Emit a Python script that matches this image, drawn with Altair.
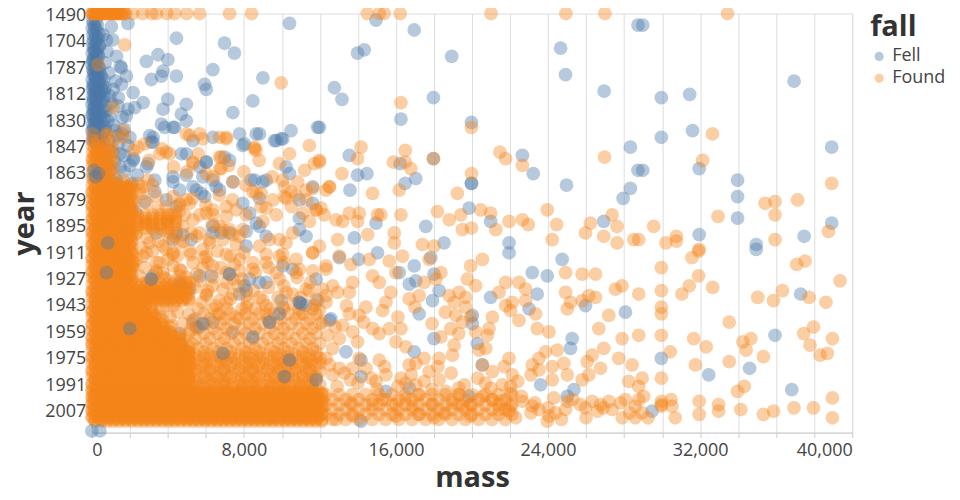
import altair as alt
import pandas as pd

# ---------------- y categories (distinct years, ordinal) ----------------
early_years = [1490, 1491, 1492, 1540, 1575, 1583, 1600, 1621, 1623, 1631, 1635, 1636, 1647, 1654,
               1668, 1671, 1704, 1715, 1723, 1740, 1741, 1750, 1751, 1753, 1766, 1768, 1769, 1773,
               1775, 1776, 1779, 1785, 1787, 1790, 1791, 1792, 1794, 1795, 1796, 1798, 1799, 1801,
               1802, 1803, 1804, 1806, 1807, 1810, 1812, 1813, 1814, 1815, 1816, 1818, 1819, 1820,
               1821, 1822, 1824, 1825, 1826, 1827, 1828, 1829, 1830, 1831, 1833, 1834, 1835, 1836,
               1837, 1838, 1839, 1840, 1841, 1842, 1843, 1844, 1845, 1846]
modern_years = list(range(1847, 2022))
year_domain = early_years + modern_years
year_labels = [1490, 1704, 1787, 1812, 1830, 1847, 1863, 1879, 1895, 1911, 1927, 1943, 1959,
               1975, 1991, 2007]

# ---------------- Fell (blue) ----------------
fell_column = [(40,1575),(210,1583),(90,1600),(300,1621),(150,1623),(20,1631),(260,1635),(120,1636),
    (380,1647),(60,1654),(200,1668),(330,1671),(100,1704),(250,1715),(30,1723),(180,1740),(400,1741),
    (80,1750),(290,1751),(140,1753),(20,1766),(230,1768),(350,1769),(110,1773),(60,1775),(270,1776),
    (190,1779),(10,1785),(320,1787),(130,1790),(40,1791),(240,1792),(420,1794),(90,1795),(160,1796),
    (300,1798),(20,1799),(210,1801),(380,1802),(70,1803),(150,1804),(280,1806),(30,1807),(230,1810),
    (120,1812),(340,1813),(50,1814),(190,1815),(260,1816),(90,1818),(410,1819),(10,1820),(170,1821),
    (310,1822),(60,1824),(240,1825),(130,1826),(360,1827),(20,1828),(200,1829),(90,1830),(290,1831),
    (150,1833),(40,1834),(390,1835),(110,1836),(230,1837),(10,1838),(330,1839),(180,1840),(70,1841),
    (270,1842),(130,1843),(30,1844),(350,1845),(200,1846),
    (420,1740),(140,1751),(330,1768),(60,1776),(250,1787),(400,1790),(110,1792),(300,1795),(200,1798),
    (380,1801),(70,1804),(330,1807),(180,1812),(420,1814),(90,1816),(260,1819),(150,1822),(400,1825),
    (30,1827),(300,1829),(220,1831),(380,1834),(90,1837),(280,1840),(190,1843),(420,1846),
    (500,1796),(620,1799),(550,1803),(700,1806),(480,1812),(650,1815),(560,1818),(720,1821),
    (600,1825),(480,1828),(650,1830),(550,1834),(700,1838),(480,1842),(620,1845),(500,1807),
    (600,1654),(1100,1704),(800,1753),(1300,1769),(700,1779),(1500,1787),(900,1794),(1250,1801),
    (650,1810),(1400,1815),(1050,1819),(750,1825),(1600,1829),(850,1831),(1150,1835),(1700,1837),
    (600,1839),(1350,1841),(700,1836),(1200,1838),(1600,1840),(2000,1842),(900,1844),(1400,1846)]

fell_mid = [(1900,1847),(500,1849),(1100,1851),(1700,1853),(2200,1855),(800,1858),(1500,1860),
    (1000,1862),(2400,1865),(600,1867),(1300,1870),(1900,1873),(900,1876),(1600,1879),(1200,1884),
    (300,1848),(900,1850),(1500,1852),(600,1855),(1200,1857),(2000,1859),(400,1861),(1700,1863),
    (800,1864),(100,1866),(1300,1868),(2100,1870),(600,1872),(1000,1875),(1800,1877),(300,1879),
    (1400,1882),(700,1885),(2300,1887),(900,1890),(500,1894),(1600,1897),(1100,1912)]

fell_scatter = [(1030,1623),(1900,1600),(770,1704),(4450,1671),(6980,1723),(7500,1766),(10400,1600),
    (2870,1776),(3480,1768),(4000,1775),(6370,1791),(9000,1798),(1560,1790),(1820,1796),(3130,1799),
    (3660,1796),(4450,1796),(3745,1792),(1120,1807),(2170,1812),(945,1814),(1560,1803),(4000,1816),
    (2700,1819),(3745,1824),(4970,1820),(5930,1803),(6020,1807),(8470,1818),(7420,1826),(4710,1827),
    (1900,1824),(2260,1822),(1380,1821),(945,1828),(1820,1828),(3660,1834),(4270,1836),(6370,1842),
    (5320,1844),(8650,1840),(10480,1838),(9700,1844),(10040,1843),(11880,1836),(11970,1836),
    (3220,1842),(3130,1845),(8030,1846),
    (6020,1857),(6980,1854),(4710,1852),(5670,1860),(5840,1866),(7420,1869),(8560,1868),(9170,1868),
    (10220,1860),(10400,1864),(11620,1872),(2170,1856),(2870,1860),(3310,1868),(4270,1869),
    (5500,1874),(5760,1876),(6720,1874),(7940,1882),(8300,1888),(10920,1880),(11620,1882),
    (3920,1880),(4450,1884),(3400,1900),(4270,1904),(6370,1900),(7245,1900),(8820,1896),(10920,1898),
    (14950,1575),(16960,1635),(13980,1766),(14330,1751),(18930,1769),(24660,1750),(24920,1795),
    (12760,1806),(13160,1816),(17970,1815),(26950,1810),(16260,1830),(19970,1833),(28330,1848),
    (28730,1621),(13545,1853),(13980,1865),(14470,1864),(13580,1874),(16220,1858),(16480,1870),
    (17040,1867),(17970,1855),(19970,1870),(19970,1870),(22650,1853),(23220,1864),(24970,1871),
    (28330,1873),(27950,1879),(28730,1862),(17570,1896),(18530,1906),(19845,1885),(20980,1893),
    (21950,1906),(14950,1894),(13810,1903),(26930,1893),
    (28980,1621),(29960,1815),(31450,1813),(36940,1801),(29960,1842),(31600,1838),(28980,1862),
    (31950,1861),(33970,1868),(33970,1878),(33970,1891),(38920,1848),(38920,1894),(31950,1901),
    (34950,1907),(37470,1902),
    (37290,1937),(35940,1962),(29960,1976),(32450,1986),(34600,1982),(36820,1995),(29470,2008),
    (34950,1910),
    (13020,1915),(14030,1916),(15030,1912),(16960,1920),(16170,1924),(17830,1915),(16700,1931),
    (17040,1929),(18000,1925),(18270,1935),(17920,1941),(17220,1949),(20020,1950),(20020,1955),
    (20280,1967),(18000,1964),(16960,1972),(20540,1980),(13370,1972),(14160,1977),(14160,1987),
    (15470,1996),(16700,1994),(12580,1952),(14160,2014),(20980,1939),(21950,1912),(23170,1924),
    (23960,1926),(23430,1937),(24740,1916),(23000,1946),(25970,1944),(25270,1964),(25180,1970),
    (23610,1992),(25360,1995),(28070,1948),(19850,1999),(25010,1999),
    (3830,1836),(4360,1836),(4970,1831),(3045,1841),(3220,1845),(7770,1840),(8820,1840),(9610,1844),
    (9960,1843),(7940,1847),(4970,1852),(6020,1857),(7245,1856),(2960,1858),(4270,1866),(4970,1865),
    (6370,1868),(6540,1872),(8380,1868),(9000,1869),(5320,1872),(5930,1878),(8820,1879),(2780,1881),
    (3310,1875),(4620,1874),(10920,1891),(11270,1902),(10040,1920),(8650,1894),(9170,1902),
    (8120,1908),(8120,1899),(6370,1896),(6810,1900),(4450,1900),(4790,1901),(5230,1904),(6280,1926),
    (7245,1925),(3220,1926),(4620,1930),(5150,1934),(8300,1928),(8120,1935),(9170,1930),(11800,1928),
    (10920,1942),(11880,1941),
    (3130,1928),(4710,1932),(5670,1926),(8030,1932),(8820,1930),(9345,1954),(9960,1941),(10570,1922),
    (5320,1953),(5670,1957),(6370,1954),(7420,1960),(10130,1987),(10400,1977),(11270,1944),(9430,2012),
    (5495,1957),(4620,1961),(4710,1967),(7770,1937),(12495,1953)]

# Fell points that sit on top of the orange cloud
fell_over = [(770,1924),(840,1906),(1995,1958),(100,1862),(350,1864),(200,1866),(0,2020),(420,2020),
             (9345,1954),(10920,1942),(10130,1987),(10400,1977),(7245,1925),(3130,1928),
             (11010,1943),(9870,1949),(5845,1955),(8470,1963),(11800,1989),(6895,1973)]

# ---------------- Found (orange) ----------------
found_1490 = [0, 30, 60, 110, 150, 200, 240, 290, 330, 380, 420, 470, 520, 570, 620, 670, 720, 780,
              830, 880, 940, 990, 1050, 1100, 1160, 1220, 1280, 1340, 1400, 1460, 1520, 1590, 1650,
              1720, 1780, 2150, 2680, 3150, 3400, 3940, 4360, 4990, 5670, 7245, 8400, 14490, 15120,
              15380, 16220, 21000, 24940, 26990, 33440]

found_scatter = [(1730,1740),(330,1785),(9960,1802),(1120,1822),(16260,1819),(19970,1836),(32650,1840),
    (50,1840),(800,1841),(1200,1843),(1700,1842),(300,1845),(2780,1846),(4970,1840),(5830,1843),
    (6720,1842),(7070,1843),(770,1840),(1645,1838),(70,1844),(5145,1841),(5670,1840),(7070,1842),
    (11445,1847),(8560,1848),(3920,1851),(2430,1848),(5320,1858),(6720,1854),(6810,1861),(9870,1858),
    (10040,1868),(11700,1858),(8650,1876),(10130,1878),(10480,1875),(11270,1874),(2960,1868),
    (2700,1872),(3400,1878),(2260,1881),(4270,1878),(4620,1882),(4970,1880),(5670,1889),(6370,1889),
    (7070,1890),(6720,1896),(7245,1898),(7770,1902),(8120,1889),(9000,1893),(9345,1904),(9870,1904),
    (10570,1900),(11100,1888),(11800,1886),(11445,1893),(2350,1900),(2780,1894),(3220,1898),
    (3920,1893),(4100,1900),(4790,1896),(5230,1900),
    (245,1852),(50,1856),(4095,1852),(3570,1852),(5320,1857),(6020,1864),(6720,1861),(6810,1854),
    (8560,1849),(7420,1869),(8645,1850),(11970,1856),(11620,1873),(12320,1874),(10130,1872),
    (10830,1869),(10745,1877),(11795,1886),(9520,1880),(10220,1879),(9170,1885),(8470,1875),
    (8910,1876),(7070,1884),(7595,1886),(6370,1886),(6020,1888),(4620,1883),(5145,1882),(4190,1889),
    (4880,1889),(5320,1892),(3045,1895),(3745,1898),(4360,1902),(1645,1868),(1295,1874),(1645,1880),
    (1995,1884),(2430,1870),(2695,1876),(6370,1895),(6895,1898),(7420,1901),(7945,1898),(5670,1900),
    (6195,1904),(5845,1910),(4620,1906),(5145,1911),(4270,1913),(3745,1908),(3045,1906),(2870,1912),
    (2345,1916),(3395,1918),(4270,1920),(3745,1924),(5320,1918),(5845,1921),(4620,1926),(5145,1930),
    (6370,1920),(7070,1924),(7770,1923),(8470,1918),(9170,1913),(8820,1908),(9870,1914),(10220,1906),
    (10745,1916),(11620,1912),(11970,1908),(12320,1920),(11620,1923),(10745,1924),(9870,1928),
    (10570,1937),(11445,1935),(12145,1934),(10045,1945),(10920,1949),(11970,1947),(12320,1942),
    (6020,1937),(6720,1941),(7420,1937),(8120,1945),(8820,1939),(9170,1949),(7595,1951),(6720,1949),
    (6020,1914),(7070,1913),(7770,1916),(9170,1918),(10045,1913),(11620,1912),(10920,1922),(9695,1924),
    (8470,1922),(7420,1928),(6370,1932),(6020,1938),(7070,1942),(8120,1938),(9170,1944),(10220,1936),
    (11270,1934),(11795,1940),(1295,1916),(2170,1920),(2695,1914),(3570,1918),(4270,1912),(4620,1922),
    (1820,1928),(2870,1930),(3920,1928),(4970,1930),(1470,1922),(3395,1924),
    (3200,1948),(4100,1951),(4800,1955),(3900,1944),(5200,1959),(4600,1962),(3400,1950),(3700,1953),
    (4200,1956),(4500,1948),(4000,1960),(4800,1965),(3600,1946),(4300,1944),
    (2300,1901),(2900,1903),(3500,1905),(4100,1903),(4800,1905),(5500,1902),(6200,1906),(6900,1904),
    (7600,1907),(2600,1909),(3200,1911),(3900,1910),(4500,1914),(5200,1913),(5900,1915),(6600,1911),
    (7300,1914),(8000,1912),(2200,1918),(2800,1921),(3400,1923),(4000,1916),(4700,1923),(5500,1925),
    (6100,1918),(6800,1921),(7500,1919),(2500,1926),(3100,1929),(3800,1927),(4400,1929),(5000,1927),
    (5700,1929),(6400,1927),(7100,1930),(7900,1928),(8600,1924),(9300,1921),(10100,1918),(10800,1927),
    (11500,1930),
    (2200,1850),(3000,1856),(3700,1849),(4300,1860),(5000,1863),(5600,1852),(6400,1866),(7200,1859),
    (8000,1863),(8800,1856),(9500,1866),(10400,1852),(11200,1862),(2500,1874),(3200,1871),(3900,1884),
    (4600,1887),(5300,1879),(6000,1883),(6700,1877),(7400,1880),(8100,1871),(8900,1884),(9700,1889),
    (10500,1884),(11300,1880),(2100,1887),(3500,1886),(2900,1882),
    (5400,1933),(6100,1935),(6900,1934),(7700,1932),(8500,1935),(9300,1933),(10100,1932),(11000,1939),
    (11700,1944),(5800,1942),(6500,1944),(7300,1940),(8200,1942),(9000,1941),(9800,1939),(10600,1943),
    (11970,1857),(14160,1848),(13980,1855),(13160,1864),(12500,1872),(12500,1872),(14770,1876),
    (16490,1850),(15860,1857),(16490,1857),(16780,1861),(16170,1874),(17970,1855),(19230,1876),
    (19970,1864),(21470,1851),(21770,1855),(22650,1859),(26970,1854),(23960,1886),(24450,1895),
    (24220,1904),(26230,1894),(25970,1900),(27370,1889),(27630,1896),(26930,1902),(27630,1906),
    (28510,1904),(12060,1885),(12230,1889),(12850,1892),(13200,1893),(13545,1888),(14070,1888),
    (13980,1893),(15030,1889),(15210,1889),(14510,1901),(15910,1900),(16260,1889),(12930,1904),
    (18180,1887),(18800,1892),(19410,1889),(19490,1898),(19970,1897),(20460,1886),(20980,1888),
    (21250,1898),(21950,1893),(22650,1892),(22960,1895),(15910,1906),(17390,1907),(18000,1908),
    (32130,1856),(38920,1870),(35420,1882),(35940,1881),(35940,1889),(37130,1880),(32940,1890),
    (29560,1896),(30200,1906),(30750,1902),(30750,1905),(35940,1904),(38750,1899),(31950,1910),
    (28770,1904),
    (29960,1921),(29960,1935),(29960,1945),(29960,1949),(29960,1962),(29960,1988),(31570,1915),
    (31920,1911),(31920,1926),(31430,1932),(31040,1937),(32660,1933),(31660,1964),(32320,1969),
    (31750,1980),(30430,1972),(33530,1954),(33530,1978),(34250,1966),(34670,1964),(34420,1971),
    (35330,1975),(35030,1939),(35860,1941),(36330,1935),(37080,1919),(37520,1917),(37730,1939),
    (38620,1942),(39360,1929),(37450,1961),(37960,1957),(37780,1968),(38310,1974),(38690,1973),
    (38960,1964),(33970,1996),(34320,1993),(34140,2007),(35330,2010),(35860,2008),(36940,2006),
    (37960,2006),(38960,2000),(38960,2012),(31950,2002),(31950,2010),(32970,2004),(32970,2008),
    (30690,2012),(30520,2005),(29960,2002),(29960,2005),(29960,2004),(29260,2012),(28950,2009),
    (28770,2001),(28950,1988),(28770,1993),(28770,1962),(28770,1937),(29030,1999),(30470,2001),
    (12850,2013),(13630,2003),(13720,2011),(14770,2004),(15290,2001),(16000,2004),(16000,2011),
    (16520,2000),(16870,2005),(17220,2010),(17920,2004),(18000,2012),(18530,2009),(18970,2003),
    (19490,2005),(19930,2004),(19930,2011),(20540,1999),(21070,2001),(21510,2002),(21420,2007),
    (22030,1997),(22030,2005),(21950,2008),(22650,2002),(23170,2005),(23520,2007),(24050,2011),
    (23960,2014),(24390,2009),(25010,2002),(24920,2007),(25970,2006),(26320,2002),(26760,2004),
    (27370,2007),(27810,2003),(28590,2012),(28590,2005),(28070,2001),
    (22600,1999),(23300,2003),(24000,2006),(24700,2013),(25300,2001),(26000,2012),(26600,2008),
    (27200,2002),(27900,2012),(23100,2009),(24300,2000),(25700,2004),(26900,2006),(28300,2009),
    (22300,2012),
    (12320,1922),(12670,1932),(12930,1936),(13545,1936),(13720,1930),(12320,1938),(13020,1914),
    (13630,1919),(14600,1916),(14770,1926),(15120,1930),(15645,1917),(15995,1924),(16345,1914),
    (15730,1936),(15470,1942),(16695,1940),(17220,1938),(17480,1930),(18095,1928),(18360,1924),
    (17745,1916),(18795,1938),(19060,1942),(19320,1936),(19670,1939),(19760,1928),(19930,1920),
    (20545,1916),(20195,1932),(21070,1951),(21420,1936),(21770,1930),(22470,1930),(21770,1944),
    (22030,1947),(22470,1953),(22820,1934),(22120,1942),(22820,1941),(23345,1949),(23430,1958),
    (24045,1960),(23520,1976),(23870,1972),(24480,1971),(24220,1981),(24920,1936),(25180,1942),
    (25010,1946),(25795,1941),(26145,1938),(26495,1939),(26670,1958),(26495,1925),(25795,1925),
    (24920,1924),(26930,1970),(27195,1950),(27545,1934),(27895,1932),(27895,1964),(27720,1976),
    (28420,1980),(28245,1990),(26320,1974),(26060,1978),(26760,1982),(26145,1986),(25795,1989),
    (25010,1986),(24830,1979),(24220,1989),(23520,1983),(23170,1980),(21945,1976),(22120,1986),
    (22030,1993),(21595,1992),(21070,1984),(20545,1980),(20370,1971),(20720,1970),(20810,1962),
    (20895,1958),(20195,1960),(19495,1954),(19670,1945),(19930,1951),(19145,1950),(18880,1958),
    (18360,1963),(19060,1968),(18970,1974),(18270,1976),(17745,1984),(17480,1976),(17045,1979),
    (16695,1980),(16520,1969),(15995,1966),(16260,1958),(15645,1958),(15120,1961),(14770,1958),
    (13980,1966),(13720,1960),(13020,1964),(12670,1970),(12320,1976),(12410,1962),(13545,1949),
    (14070,1950),(14420,1945),(13195,1956),(12145,1954),(14070,1976),(14420,1982),(13720,1982),
    (13020,1982),(12670,1986),(15120,1977),(15470,1986),(14945,1990),(16260,1988),(17045,1992),
    (18270,1989),(18620,1996),(17220,1998),(19320,1998),
    (12500,1980),(13300,1985),(14000,1991),(14700,1988),(15400,1981),(16100,1993),(16800,1986),
    (17500,1990),(18200,1981),(18900,1985),(19600,1992),(20300,1988),(21000,1994),(21700,1981),
    (22400,1990),(23100,1986),(12900,1993),(13600,1989),(15000,1995),(16500,1991),(17900,1995),
    (19300,1994),(20700,1991),(12800,1957),(13400,1944),(14300,1954),(15300,1947),(16100,1951),
    (17000,1945),(17900,1955),(18600,1948),(19300,1961)]

# mass rows of the dense found cloud
col_small_a = [30, 300, 600, 900]
col_small_b = [150, 450, 750, 1100]
col_a = [20, 330, 650, 980, 1310, 1640, 1970]
col_b = [170, 490, 810, 1140, 1470, 1800, 2100]
mid_1890 = [2400, 2800, 3200, 3600, 4000, 4400]
band5_a = [20, 340, 660, 990, 1320, 1650, 1980, 2310, 2640, 2970, 3300, 3630, 3960, 4290, 4620, 4950]
band5_b = [180, 500, 830, 1150, 1480, 1810, 2140, 2470, 2800, 3130, 3460, 3790, 4120, 4450, 4780, 5100]
tri_a = [20, 340, 660, 990, 1320, 1650, 1980, 2310, 2640]
tri_b = [180, 500, 830, 1150, 1480, 1810, 2140, 2470, 2800, 3130]
tri_c = [20, 340, 660, 990, 1320, 1650, 1980, 2310, 2640, 2970, 3300, 3630]
tri_d = [180, 500, 830, 1150, 1480, 1810, 2140, 2470, 2800, 3130, 3460, 3790, 4120]
tri_e = [20, 340, 660, 990, 1320, 1650, 1980, 2310, 2640, 2970, 3300, 3630, 3960, 4290, 4620]
mid_a = [5300, 6000, 6800, 7500, 8300, 9000, 9800, 10500, 11300, 12000]
mid_b = [5600, 6400, 7100, 7900, 8600, 9400, 10100, 10900, 11600]
mid_c = [5100, 5900, 6600, 7300, 8100, 8800, 9600, 10300, 11100, 11800]
mid_d = [5450, 6200, 6950, 7750, 8450, 9250, 9950, 10700, 11450]
band12_a = [20, 330, 650, 980, 1300, 1610, 1950, 2260, 2590, 2900, 3240, 3560, 3880, 4200, 4510, 4850,
            5170, 5480, 5800, 6130, 6450, 6760, 7100, 7420, 7730, 8050, 8380, 8700, 9010, 9340, 9660,
            9980, 10300, 10620, 10950, 11270, 11580, 11900]
band12_b = [160, 480, 810, 1130, 1450, 1770, 2100, 2420, 2740, 3060, 3390, 3710, 4030, 4350, 4680, 5000,
            5320, 5640, 5970, 6290, 6610, 6930, 7260, 7580, 7900, 8220, 8550, 8870, 9190, 9510, 9840,
            10160, 10480, 10800, 11130, 11450, 11770, 12100]
far_a = [12300, 13000, 13700, 14400, 15100, 15800, 16500, 17200, 17900, 18600, 19300, 20000, 20700,
         21400, 22100]
far_b = [12650, 13350, 14050, 14750, 15450, 16150, 16850, 17550, 18250, 18950, 19650, 20350, 21050,
         21750]

dense_rows = [
    (1847, col_small_a), (1849, col_small_b), (1851, col_small_a), (1853, col_small_b),
    (1855, col_small_a), (1857, col_small_b), (1859, col_small_a), (1861, col_small_b),
    (1863, col_small_a), (1865, col_small_b), (1867, col_small_a), (1869, col_small_b),
    (1871, col_a), (1873, col_b), (1875, col_a), (1877, col_b), (1879, col_a), (1881, col_b),
    (1883, col_a), (1885, col_b), (1887, col_a), (1889, col_b), (1891, col_a), (1893, col_b),
    (1895, col_a), (1897, col_b), (1899, col_a), (1901, col_b), (1903, col_a), (1905, col_b),
    (1907, col_a), (1909, col_b), (1911, col_a), (1913, col_b), (1915, col_a), (1917, col_b),
    (1919, col_a), (1921, col_b), (1923, col_a), (1925, col_b), (1927, col_a), (1929, col_b),
    (1872, col_b), (1876, col_a), (1880, col_b), (1884, col_a), (1888, col_b), (1892, col_a),
    (1896, col_b), (1900, col_a), (1904, col_b), (1908, col_a), (1912, col_b), (1916, col_a),
    (1920, col_b), (1924, col_a), (1928, col_b),
    (1889, mid_1890), (1891, mid_1890), (1893, mid_1890), (1895, mid_1890), (1897, mid_1890),
    (1931, band5_a), (1933, band5_b), (1935, band5_a), (1937, band5_b), (1939, band5_a),
    (1941, band5_b), (1936, band5_a), (1940, band5_b),
    (1943, tri_a), (1945, tri_b), (1947, tri_a), (1949, tri_b), (1951, tri_c), (1953, tri_b),
    (1955, tri_c), (1957, tri_d), (1959, tri_c), (1961, tri_d), (1963, tri_e), (1965, tri_d),
    (1967, tri_e), (1969, band5_b),
    (1944, tri_b), (1948, tri_a), (1952, tri_b), (1956, tri_c), (1960, tri_d), (1964, tri_e),
    (1968, tri_e),
    (1971, band5_a), (1973, band5_b), (1975, band5_a), (1977, band5_b), (1979, band5_a),
    (1981, band5_b), (1983, band5_a), (1985, band5_b), (1987, band5_a), (1989, band5_b),
    (1991, band5_a), (1993, band5_b), (1995, band5_a),
    (1972, band5_b), (1976, band5_a), (1980, band5_b), (1984, band5_a), (1988, band5_b),
    (1992, band5_a),
    (1946, mid_b), (1949, mid_c), (1952, mid_d), (1955, mid_a), (1958, mid_b), (1961, mid_c),
    (1964, mid_d), (1967, mid_a), (1970, mid_b), (1972, mid_c), (1974, mid_d), (1976, mid_a),
    (1978, mid_b), (1980, mid_c), (1982, mid_d), (1984, mid_a), (1986, mid_b), (1988, mid_c),
    (1990, mid_d), (1992, mid_a), (1994, mid_b),
    (1975, mid_c), (1979, mid_a), (1983, mid_d), (1987, mid_c), (1991, mid_b), (1993, mid_d),
    (1996, band12_a), (1998, band12_b), (2000, band12_a), (2002, band12_b), (2004, band12_a),
    (2006, band12_b), (2008, band12_a), (2010, band12_b), (2012, band12_a), (2014, band12_b),
    (1997, band12_b), (1999, band12_a), (2001, band12_b), (2003, band12_a), (2005, band12_b),
    (2007, band12_a), (2009, band12_b), (2011, band12_a), (2013, band12_b),
    (1998, far_a), (2001, far_b), (2004, far_a), (2007, far_b), (2010, far_a), (2013, far_b),
]

# ---------------- build table (draw order: fell, found, fell-on-top) ----------------
rows = []
for m, y in fell_column + fell_mid + fell_scatter:
    rows.append({"mass": m, "year": y, "fall": "Fell"})
for m in found_1490:
    rows.append({"mass": m, "year": 1490, "fall": "Found"})
for m, y in found_scatter:
    rows.append({"mass": m, "year": y, "fall": "Found"})
for y, masses in dense_rows:
    for m in masses:
        rows.append({"mass": m, "year": y, "fall": "Found"})
for m, y in fell_over:
    rows.append({"mass": m, "year": y, "fall": "Fell"})
df = pd.DataFrame(rows)
df = df[df["year"].isin(year_domain)]

FONT = "Open Sans"

chart = alt.Chart(df).mark_circle(size=190, opacity=0.4).encode(
    x=alt.X("mass:Q", title="mass",
            scale=alt.Scale(domain=[0, 40000], nice=False),
            axis=alt.Axis(labelExpr="datum.value % 8000 === 0 ? datum.label : ''",
                          tickCount=20, labelPadding=4, titlePadding=4)),
    y=alt.Y("year:O", title="year",
            scale=alt.Scale(domain=year_domain, padding=0),
            axis=alt.Axis(values=year_labels, ticks=False, labelPadding=6, titlePadding=5,
                          labelOffset=2)),
    color=alt.Color("fall:N", title="fall",
                    scale=alt.Scale(domain=["Fell", "Found"], range=["#4c78a8", "#f58518"]),
                    legend=alt.Legend(symbolSize=85, rowPadding=4)),
).properties(
    width=762, height=420,
    autosize=alt.AutoSizeParams(type="none"),
    padding={"left": 84, "top": 5, "right": 100, "bottom": 58},
).configure(
    font=FONT
).configure_axis(
    labelFont=FONT, titleFont=FONT, labelFontSize=18, titleFontSize=29,
    titleFontWeight="bold", labelColor="#444", titleColor="#333",
    gridColor="#ddd", domainColor="#ccc", tickColor="#ccc"
).configure_legend(
    labelFont=FONT, titleFont=FONT, labelFontSize=18, titleFontSize=29,
    titleFontWeight="bold", labelColor="#444", titleColor="#333"
).configure_view(stroke="#ddd")

chart.save("out.html", embed_options={"renderer": "svg", "actions": False})
